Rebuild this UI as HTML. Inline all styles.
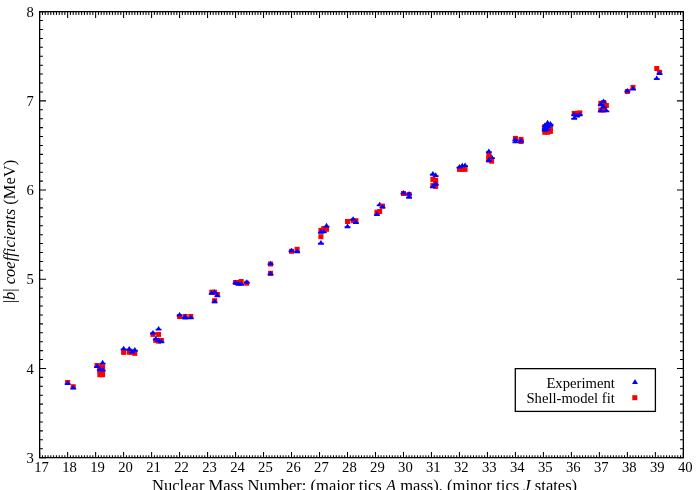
<!DOCTYPE html>
<html><head><meta charset="utf-8"><title>b coefficients</title>
<style>
html,body{margin:0;padding:0;background:#fff;}
body{width:700px;height:490px;overflow:hidden;}
svg{display:block;will-change:transform;}
text{font-family:"Liberation Serif",serif;font-size:14.67px;fill:#000;}
.i{font-style:italic;}
</style></head><body>
<svg width="700" height="490" viewBox="0 0 700 490">
<rect width="700" height="490" fill="#fff"/>
<path d="M39.65 457.65v-5.55M39.65 11.65v6.4M42.45 457.65v-2.45M42.45 11.65v3.3M45.25 457.65v-2.45M45.25 11.65v3.3M48.05 457.65v-2.45M48.05 11.65v3.3M50.84 457.65v-2.45M50.84 11.65v3.3M53.64 457.65v-2.45M53.64 11.65v3.3M56.44 457.65v-2.45M56.44 11.65v3.3M59.24 457.65v-2.45M59.24 11.65v3.3M62.04 457.65v-2.45M62.04 11.65v3.3M64.84 457.65v-2.45M64.84 11.65v3.3M67.64 457.65v-5.55M67.64 11.65v6.4M70.44 457.65v-2.45M70.44 11.65v3.3M73.23 457.65v-2.45M73.23 11.65v3.3M76.03 457.65v-2.45M76.03 11.65v3.3M78.83 457.65v-2.45M78.83 11.65v3.3M81.63 457.65v-2.45M81.63 11.65v3.3M84.43 457.65v-2.45M84.43 11.65v3.3M87.23 457.65v-2.45M87.23 11.65v3.3M90.03 457.65v-2.45M90.03 11.65v3.3M92.83 457.65v-2.45M92.83 11.65v3.3M95.62 457.65v-5.55M95.62 11.65v6.4M98.42 457.65v-2.45M98.42 11.65v3.3M101.22 457.65v-2.45M101.22 11.65v3.3M104.02 457.65v-2.45M104.02 11.65v3.3M106.82 457.65v-2.45M106.82 11.65v3.3M109.62 457.65v-2.45M109.62 11.65v3.3M112.42 457.65v-2.45M112.42 11.65v3.3M115.21 457.65v-2.45M115.21 11.65v3.3M118.01 457.65v-2.45M118.01 11.65v3.3M120.81 457.65v-2.45M120.81 11.65v3.3M123.61 457.65v-5.55M123.61 11.65v6.4M126.41 457.65v-2.45M126.41 11.65v3.3M129.21 457.65v-2.45M129.21 11.65v3.3M132.01 457.65v-2.45M132.01 11.65v3.3M134.81 457.65v-2.45M134.81 11.65v3.3M137.60 457.65v-2.45M137.60 11.65v3.3M140.40 457.65v-2.45M140.40 11.65v3.3M143.20 457.65v-2.45M143.20 11.65v3.3M146.00 457.65v-2.45M146.00 11.65v3.3M148.80 457.65v-2.45M148.80 11.65v3.3M151.60 457.65v-5.55M151.60 11.65v6.4M154.40 457.65v-2.45M154.40 11.65v3.3M157.20 457.65v-2.45M157.20 11.65v3.3M159.99 457.65v-2.45M159.99 11.65v3.3M162.79 457.65v-2.45M162.79 11.65v3.3M165.59 457.65v-2.45M165.59 11.65v3.3M168.39 457.65v-2.45M168.39 11.65v3.3M171.19 457.65v-2.45M171.19 11.65v3.3M173.99 457.65v-2.45M173.99 11.65v3.3M176.79 457.65v-2.45M176.79 11.65v3.3M179.58 457.65v-5.55M179.58 11.65v6.4M182.38 457.65v-2.45M182.38 11.65v3.3M185.18 457.65v-2.45M185.18 11.65v3.3M187.98 457.65v-2.45M187.98 11.65v3.3M190.78 457.65v-2.45M190.78 11.65v3.3M193.58 457.65v-2.45M193.58 11.65v3.3M196.38 457.65v-2.45M196.38 11.65v3.3M199.18 457.65v-2.45M199.18 11.65v3.3M201.97 457.65v-2.45M201.97 11.65v3.3M204.77 457.65v-2.45M204.77 11.65v3.3M207.57 457.65v-5.55M207.57 11.65v6.4M210.37 457.65v-2.45M210.37 11.65v3.3M213.17 457.65v-2.45M213.17 11.65v3.3M215.97 457.65v-2.45M215.97 11.65v3.3M218.77 457.65v-2.45M218.77 11.65v3.3M221.57 457.65v-2.45M221.57 11.65v3.3M224.36 457.65v-2.45M224.36 11.65v3.3M227.16 457.65v-2.45M227.16 11.65v3.3M229.96 457.65v-2.45M229.96 11.65v3.3M232.76 457.65v-2.45M232.76 11.65v3.3M235.56 457.65v-5.55M235.56 11.65v6.4M238.36 457.65v-2.45M238.36 11.65v3.3M241.16 457.65v-2.45M241.16 11.65v3.3M243.95 457.65v-2.45M243.95 11.65v3.3M246.75 457.65v-2.45M246.75 11.65v3.3M249.55 457.65v-2.45M249.55 11.65v3.3M252.35 457.65v-2.45M252.35 11.65v3.3M255.15 457.65v-2.45M255.15 11.65v3.3M257.95 457.65v-2.45M257.95 11.65v3.3M260.75 457.65v-2.45M260.75 11.65v3.3M263.55 457.65v-5.55M263.55 11.65v6.4M266.34 457.65v-2.45M266.34 11.65v3.3M269.14 457.65v-2.45M269.14 11.65v3.3M271.94 457.65v-2.45M271.94 11.65v3.3M274.74 457.65v-2.45M274.74 11.65v3.3M277.54 457.65v-2.45M277.54 11.65v3.3M280.34 457.65v-2.45M280.34 11.65v3.3M283.14 457.65v-2.45M283.14 11.65v3.3M285.94 457.65v-2.45M285.94 11.65v3.3M288.73 457.65v-2.45M288.73 11.65v3.3M291.53 457.65v-5.55M291.53 11.65v6.4M294.33 457.65v-2.45M294.33 11.65v3.3M297.13 457.65v-2.45M297.13 11.65v3.3M299.93 457.65v-2.45M299.93 11.65v3.3M302.73 457.65v-2.45M302.73 11.65v3.3M305.53 457.65v-2.45M305.53 11.65v3.3M308.32 457.65v-2.45M308.32 11.65v3.3M311.12 457.65v-2.45M311.12 11.65v3.3M313.92 457.65v-2.45M313.92 11.65v3.3M316.72 457.65v-2.45M316.72 11.65v3.3M319.52 457.65v-5.55M319.52 11.65v6.4M322.32 457.65v-2.45M322.32 11.65v3.3M325.12 457.65v-2.45M325.12 11.65v3.3M327.92 457.65v-2.45M327.92 11.65v3.3M330.71 457.65v-2.45M330.71 11.65v3.3M333.51 457.65v-2.45M333.51 11.65v3.3M336.31 457.65v-2.45M336.31 11.65v3.3M339.11 457.65v-2.45M339.11 11.65v3.3M341.91 457.65v-2.45M341.91 11.65v3.3M344.71 457.65v-2.45M344.71 11.65v3.3M347.51 457.65v-5.55M347.51 11.65v6.4M350.31 457.65v-2.45M350.31 11.65v3.3M353.10 457.65v-2.45M353.10 11.65v3.3M355.90 457.65v-2.45M355.90 11.65v3.3M358.70 457.65v-2.45M358.70 11.65v3.3M361.50 457.65v-2.45M361.50 11.65v3.3M364.30 457.65v-2.45M364.30 11.65v3.3M367.10 457.65v-2.45M367.10 11.65v3.3M369.90 457.65v-2.45M369.90 11.65v3.3M372.69 457.65v-2.45M372.69 11.65v3.3M375.49 457.65v-5.55M375.49 11.65v6.4M378.29 457.65v-2.45M378.29 11.65v3.3M381.09 457.65v-2.45M381.09 11.65v3.3M383.89 457.65v-2.45M383.89 11.65v3.3M386.69 457.65v-2.45M386.69 11.65v3.3M389.49 457.65v-2.45M389.49 11.65v3.3M392.29 457.65v-2.45M392.29 11.65v3.3M395.08 457.65v-2.45M395.08 11.65v3.3M397.88 457.65v-2.45M397.88 11.65v3.3M400.68 457.65v-2.45M400.68 11.65v3.3M403.48 457.65v-5.55M403.48 11.65v6.4M406.28 457.65v-2.45M406.28 11.65v3.3M409.08 457.65v-2.45M409.08 11.65v3.3M411.88 457.65v-2.45M411.88 11.65v3.3M414.68 457.65v-2.45M414.68 11.65v3.3M417.47 457.65v-2.45M417.47 11.65v3.3M420.27 457.65v-2.45M420.27 11.65v3.3M423.07 457.65v-2.45M423.07 11.65v3.3M425.87 457.65v-2.45M425.87 11.65v3.3M428.67 457.65v-2.45M428.67 11.65v3.3M431.47 457.65v-5.55M431.47 11.65v6.4M434.27 457.65v-2.45M434.27 11.65v3.3M437.06 457.65v-2.45M437.06 11.65v3.3M439.86 457.65v-2.45M439.86 11.65v3.3M442.66 457.65v-2.45M442.66 11.65v3.3M445.46 457.65v-2.45M445.46 11.65v3.3M448.26 457.65v-2.45M448.26 11.65v3.3M451.06 457.65v-2.45M451.06 11.65v3.3M453.86 457.65v-2.45M453.86 11.65v3.3M456.66 457.65v-2.45M456.66 11.65v3.3M459.45 457.65v-5.55M459.45 11.65v6.4M462.25 457.65v-2.45M462.25 11.65v3.3M465.05 457.65v-2.45M465.05 11.65v3.3M467.85 457.65v-2.45M467.85 11.65v3.3M470.65 457.65v-2.45M470.65 11.65v3.3M473.45 457.65v-2.45M473.45 11.65v3.3M476.25 457.65v-2.45M476.25 11.65v3.3M479.05 457.65v-2.45M479.05 11.65v3.3M481.84 457.65v-2.45M481.84 11.65v3.3M484.64 457.65v-2.45M484.64 11.65v3.3M487.44 457.65v-5.55M487.44 11.65v6.4M490.24 457.65v-2.45M490.24 11.65v3.3M493.04 457.65v-2.45M493.04 11.65v3.3M495.84 457.65v-2.45M495.84 11.65v3.3M498.64 457.65v-2.45M498.64 11.65v3.3M501.43 457.65v-2.45M501.43 11.65v3.3M504.23 457.65v-2.45M504.23 11.65v3.3M507.03 457.65v-2.45M507.03 11.65v3.3M509.83 457.65v-2.45M509.83 11.65v3.3M512.63 457.65v-2.45M512.63 11.65v3.3M515.43 457.65v-5.55M515.43 11.65v6.4M518.23 457.65v-2.45M518.23 11.65v3.3M521.03 457.65v-2.45M521.03 11.65v3.3M523.82 457.65v-2.45M523.82 11.65v3.3M526.62 457.65v-2.45M526.62 11.65v3.3M529.42 457.65v-2.45M529.42 11.65v3.3M532.22 457.65v-2.45M532.22 11.65v3.3M535.02 457.65v-2.45M535.02 11.65v3.3M537.82 457.65v-2.45M537.82 11.65v3.3M540.62 457.65v-2.45M540.62 11.65v3.3M543.42 457.65v-5.55M543.42 11.65v6.4M546.21 457.65v-2.45M546.21 11.65v3.3M549.01 457.65v-2.45M549.01 11.65v3.3M551.81 457.65v-2.45M551.81 11.65v3.3M554.61 457.65v-2.45M554.61 11.65v3.3M557.41 457.65v-2.45M557.41 11.65v3.3M560.21 457.65v-2.45M560.21 11.65v3.3M563.01 457.65v-2.45M563.01 11.65v3.3M565.80 457.65v-2.45M565.80 11.65v3.3M568.60 457.65v-2.45M568.60 11.65v3.3M571.40 457.65v-5.55M571.40 11.65v6.4M574.20 457.65v-2.45M574.20 11.65v3.3M577.00 457.65v-2.45M577.00 11.65v3.3M579.80 457.65v-2.45M579.80 11.65v3.3M582.60 457.65v-2.45M582.60 11.65v3.3M585.40 457.65v-2.45M585.40 11.65v3.3M588.19 457.65v-2.45M588.19 11.65v3.3M590.99 457.65v-2.45M590.99 11.65v3.3M593.79 457.65v-2.45M593.79 11.65v3.3M596.59 457.65v-2.45M596.59 11.65v3.3M599.39 457.65v-5.55M599.39 11.65v6.4M602.19 457.65v-2.45M602.19 11.65v3.3M604.99 457.65v-2.45M604.99 11.65v3.3M607.79 457.65v-2.45M607.79 11.65v3.3M610.58 457.65v-2.45M610.58 11.65v3.3M613.38 457.65v-2.45M613.38 11.65v3.3M616.18 457.65v-2.45M616.18 11.65v3.3M618.98 457.65v-2.45M618.98 11.65v3.3M621.78 457.65v-2.45M621.78 11.65v3.3M624.58 457.65v-2.45M624.58 11.65v3.3M627.38 457.65v-5.55M627.38 11.65v6.4M630.17 457.65v-2.45M630.17 11.65v3.3M632.97 457.65v-2.45M632.97 11.65v3.3M635.77 457.65v-2.45M635.77 11.65v3.3M638.57 457.65v-2.45M638.57 11.65v3.3M641.37 457.65v-2.45M641.37 11.65v3.3M644.17 457.65v-2.45M644.17 11.65v3.3M646.97 457.65v-2.45M646.97 11.65v3.3M649.77 457.65v-2.45M649.77 11.65v3.3M652.56 457.65v-2.45M652.56 11.65v3.3M655.36 457.65v-5.55M655.36 11.65v6.4M658.16 457.65v-2.45M658.16 11.65v3.3M660.96 457.65v-2.45M660.96 11.65v3.3M663.76 457.65v-2.45M663.76 11.65v3.3M666.56 457.65v-2.45M666.56 11.65v3.3M669.36 457.65v-2.45M669.36 11.65v3.3M672.16 457.65v-2.45M672.16 11.65v3.3M674.95 457.65v-2.45M674.95 11.65v3.3M677.75 457.65v-2.45M677.75 11.65v3.3M680.55 457.65v-2.45M680.55 11.65v3.3M683.35 457.65v-5.55M683.35 11.65v6.4M39.65 457.65h6.4M683.35 457.65h-6.4M39.65 448.73h3.3M683.35 448.73h-3.3M39.65 439.81h3.3M683.35 439.81h-3.3M39.65 430.89h3.3M683.35 430.89h-3.3M39.65 421.97h3.3M683.35 421.97h-3.3M39.65 413.05h3.3M683.35 413.05h-3.3M39.65 404.13h3.3M683.35 404.13h-3.3M39.65 395.21h3.3M683.35 395.21h-3.3M39.65 386.29h3.3M683.35 386.29h-3.3M39.65 377.37h3.3M683.35 377.37h-3.3M39.65 368.45h6.4M683.35 368.45h-6.4M39.65 359.53h3.3M683.35 359.53h-3.3M39.65 350.61h3.3M683.35 350.61h-3.3M39.65 341.69h3.3M683.35 341.69h-3.3M39.65 332.77h3.3M683.35 332.77h-3.3M39.65 323.85h3.3M683.35 323.85h-3.3M39.65 314.93h3.3M683.35 314.93h-3.3M39.65 306.01h3.3M683.35 306.01h-3.3M39.65 297.09h3.3M683.35 297.09h-3.3M39.65 288.17h3.3M683.35 288.17h-3.3M39.65 279.25h6.4M683.35 279.25h-6.4M39.65 270.33h3.3M683.35 270.33h-3.3M39.65 261.41h3.3M683.35 261.41h-3.3M39.65 252.49h3.3M683.35 252.49h-3.3M39.65 243.57h3.3M683.35 243.57h-3.3M39.65 234.65h3.3M683.35 234.65h-3.3M39.65 225.73h3.3M683.35 225.73h-3.3M39.65 216.81h3.3M683.35 216.81h-3.3M39.65 207.89h3.3M683.35 207.89h-3.3M39.65 198.97h3.3M683.35 198.97h-3.3M39.65 190.05h6.4M683.35 190.05h-6.4M39.65 181.13h3.3M683.35 181.13h-3.3M39.65 172.21h3.3M683.35 172.21h-3.3M39.65 163.29h3.3M683.35 163.29h-3.3M39.65 154.37h3.3M683.35 154.37h-3.3M39.65 145.45h3.3M683.35 145.45h-3.3M39.65 136.53h3.3M683.35 136.53h-3.3M39.65 127.61h3.3M683.35 127.61h-3.3M39.65 118.69h3.3M683.35 118.69h-3.3M39.65 109.77h3.3M683.35 109.77h-3.3M39.65 100.85h6.4M683.35 100.85h-6.4M39.65 91.93h3.3M683.35 91.93h-3.3M39.65 83.01h3.3M683.35 83.01h-3.3M39.65 74.09h3.3M683.35 74.09h-3.3M39.65 65.17h3.3M683.35 65.17h-3.3M39.65 56.25h3.3M683.35 56.25h-3.3M39.65 47.33h3.3M683.35 47.33h-3.3M39.65 38.41h3.3M683.35 38.41h-3.3M39.65 29.49h3.3M683.35 29.49h-3.3M39.65 20.57h3.3M683.35 20.57h-3.3M39.65 11.65h6.4M683.35 11.65h-6.4" stroke="#000" stroke-width="1.05" fill="none"/>
<rect x="39.65" y="11.65" width="643.70" height="446.00" fill="none" stroke="#000" stroke-width="1.3"/>
<text x="41.55" y="472.45" text-anchor="middle">17</text>
<text x="69.54" y="472.45" text-anchor="middle">18</text>
<text x="97.52" y="472.45" text-anchor="middle">19</text>
<text x="125.51" y="472.45" text-anchor="middle">20</text>
<text x="153.50" y="472.45" text-anchor="middle">21</text>
<text x="181.48" y="472.45" text-anchor="middle">22</text>
<text x="209.47" y="472.45" text-anchor="middle">23</text>
<text x="237.46" y="472.45" text-anchor="middle">24</text>
<text x="265.45" y="472.45" text-anchor="middle">25</text>
<text x="293.43" y="472.45" text-anchor="middle">26</text>
<text x="321.42" y="472.45" text-anchor="middle">27</text>
<text x="349.41" y="472.45" text-anchor="middle">28</text>
<text x="377.39" y="472.45" text-anchor="middle">29</text>
<text x="405.38" y="472.45" text-anchor="middle">30</text>
<text x="433.37" y="472.45" text-anchor="middle">31</text>
<text x="461.35" y="472.45" text-anchor="middle">32</text>
<text x="489.34" y="472.45" text-anchor="middle">33</text>
<text x="517.33" y="472.45" text-anchor="middle">34</text>
<text x="545.32" y="472.45" text-anchor="middle">35</text>
<text x="573.30" y="472.45" text-anchor="middle">36</text>
<text x="601.29" y="472.45" text-anchor="middle">37</text>
<text x="629.28" y="472.45" text-anchor="middle">38</text>
<text x="657.26" y="472.45" text-anchor="middle">39</text>
<text x="685.25" y="472.45" text-anchor="middle">40</text>
<text x="33.8" y="462.80" text-anchor="end">3</text>
<text x="33.8" y="373.60" text-anchor="end">4</text>
<text x="33.8" y="284.40" text-anchor="end">5</text>
<text x="33.8" y="195.20" text-anchor="end">6</text>
<text x="33.8" y="106.00" text-anchor="end">7</text>
<text x="33.8" y="16.80" text-anchor="end">8</text>
<text x="364.6" y="491" text-anchor="middle" style="font-size:16.56px">Nuclear Mass Number: (major tics <tspan class="i">A</tspan> mass), (minor tics <tspan class="i">J</tspan> states)</text>
<text transform="translate(15.0 231.55) rotate(-90)" text-anchor="middle" style="font-size:16.56px">|<tspan class="i">b</tspan>| <tspan class="i">coefficients</tspan> (MeV)</text>
<g fill="#00f"><path d="M379.69 201.75L381.49 204.55H382.64V206.35H376.74V204.55H377.90Z"/><path d="M491.64 154.35L493.43 157.15H494.59V158.95H488.69V157.15H489.84Z"/></g>
<g fill="#f00"><rect x="65.14" y="380.00" width="5.0" height="5.0"/><rect x="70.73" y="384.20" width="5.0" height="5.0"/><rect x="94.52" y="363.00" width="5.0" height="5.0"/><rect x="97.32" y="364.30" width="5.0" height="5.0"/><rect x="100.12" y="364.30" width="5.0" height="5.0"/><rect x="97.32" y="368.20" width="5.0" height="5.0"/><rect x="100.12" y="368.20" width="5.0" height="5.0"/><rect x="97.32" y="372.20" width="5.0" height="5.0"/><rect x="100.12" y="372.20" width="5.0" height="5.0"/><rect x="121.11" y="349.90" width="5.0" height="5.0"/><rect x="126.71" y="349.80" width="5.0" height="5.0"/><rect x="129.51" y="349.80" width="5.0" height="5.0"/><rect x="132.31" y="350.90" width="5.0" height="5.0"/><rect x="156.09" y="331.90" width="5.0" height="5.0"/><rect x="150.50" y="331.90" width="5.0" height="5.0"/><rect x="153.30" y="337.90" width="5.0" height="5.0"/><rect x="156.09" y="338.70" width="5.0" height="5.0"/><rect x="158.89" y="338.00" width="5.0" height="5.0"/><rect x="177.08" y="314.00" width="5.0" height="5.0"/><rect x="182.68" y="314.00" width="5.0" height="5.0"/><rect x="188.28" y="314.00" width="5.0" height="5.0"/><rect x="209.27" y="289.70" width="5.0" height="5.0"/><rect x="212.07" y="289.70" width="5.0" height="5.0"/><rect x="214.87" y="292.00" width="5.0" height="5.0"/><rect x="212.07" y="298.20" width="5.0" height="5.0"/><rect x="233.06" y="280.00" width="5.0" height="5.0"/><rect x="235.86" y="280.00" width="5.0" height="5.0"/><rect x="238.66" y="279.00" width="5.0" height="5.0"/><rect x="244.25" y="280.70" width="5.0" height="5.0"/><rect x="268.04" y="261.50" width="5.0" height="5.0"/><rect x="268.04" y="270.80" width="5.0" height="5.0"/><rect x="289.03" y="248.80" width="5.0" height="5.0"/><rect x="294.63" y="246.80" width="5.0" height="5.0"/><rect x="321.22" y="226.10" width="5.0" height="5.0"/><rect x="324.02" y="226.80" width="5.0" height="5.0"/><rect x="318.42" y="227.90" width="5.0" height="5.0"/><rect x="318.42" y="234.20" width="5.0" height="5.0"/><rect x="345.01" y="219.00" width="5.0" height="5.0"/><rect x="350.60" y="218.20" width="5.0" height="5.0"/><rect x="353.40" y="218.20" width="5.0" height="5.0"/><rect x="379.99" y="203.60" width="5.0" height="5.0"/><rect x="377.19" y="209.00" width="5.0" height="5.0"/><rect x="374.39" y="209.70" width="5.0" height="5.0"/><rect x="400.98" y="191.00" width="5.0" height="5.0"/><rect x="406.58" y="192.00" width="5.0" height="5.0"/><rect x="430.37" y="176.90" width="5.0" height="5.0"/><rect x="433.17" y="177.70" width="5.0" height="5.0"/><rect x="433.17" y="181.00" width="5.0" height="5.0"/><rect x="433.17" y="183.90" width="5.0" height="5.0"/><rect x="430.37" y="183.10" width="5.0" height="5.0"/><rect x="456.95" y="166.90" width="5.0" height="5.0"/><rect x="459.75" y="166.90" width="5.0" height="5.0"/><rect x="462.55" y="166.90" width="5.0" height="5.0"/><rect x="486.34" y="152.80" width="5.0" height="5.0"/><rect x="486.34" y="155.50" width="5.0" height="5.0"/><rect x="486.34" y="157.50" width="5.0" height="5.0"/><rect x="489.14" y="158.70" width="5.0" height="5.0"/><rect x="512.93" y="135.90" width="5.0" height="5.0"/><rect x="518.53" y="136.90" width="5.0" height="5.0"/><rect x="518.53" y="139.00" width="5.0" height="5.0"/><rect x="542.31" y="124.10" width="5.0" height="5.0"/><rect x="542.31" y="127.00" width="5.0" height="5.0"/><rect x="542.31" y="129.80" width="5.0" height="5.0"/><rect x="545.11" y="124.50" width="5.0" height="5.0"/><rect x="545.11" y="127.00" width="5.0" height="5.0"/><rect x="545.11" y="129.80" width="5.0" height="5.0"/><rect x="547.91" y="126.40" width="5.0" height="5.0"/><rect x="547.91" y="128.90" width="5.0" height="5.0"/><rect x="571.70" y="110.90" width="5.0" height="5.0"/><rect x="574.50" y="110.90" width="5.0" height="5.0"/><rect x="577.30" y="110.40" width="5.0" height="5.0"/><rect x="598.29" y="100.80" width="5.0" height="5.0"/><rect x="601.09" y="100.00" width="5.0" height="5.0"/><rect x="603.89" y="103.00" width="5.0" height="5.0"/><rect x="601.09" y="103.00" width="5.0" height="5.0"/><rect x="598.29" y="107.50" width="5.0" height="5.0"/><rect x="601.09" y="107.50" width="5.0" height="5.0"/><rect x="624.88" y="89.00" width="5.0" height="5.0"/><rect x="630.47" y="84.90" width="5.0" height="5.0"/><rect x="654.26" y="66.00" width="5.0" height="5.0"/><rect x="657.06" y="69.80" width="5.0" height="5.0"/></g>
<g fill="#00f"><path d="M67.64 380.35L69.43 383.15H70.59V384.95H64.69V383.15H65.84Z"/><path d="M73.23 384.85L75.03 387.65H76.18V389.45H70.28V387.65H71.44Z"/><path d="M102.62 359.85L104.42 362.65H105.57V364.45H99.67V362.65H100.83Z"/><path d="M97.02 363.45L98.82 366.25H99.97V368.05H94.07V366.25H95.23Z"/><path d="M99.82 366.55L101.62 369.35H102.77V371.15H96.87V369.35H98.03Z"/><path d="M102.62 366.85L104.42 369.65H105.57V371.45H99.67V369.65H100.83Z"/><path d="M123.61 345.75L125.41 348.55H126.56V350.35H120.66V348.55H121.82Z"/><path d="M129.21 346.05L131.00 348.85H132.16V350.65H126.26V348.85H127.41Z"/><path d="M134.81 347.05L136.60 349.85H137.76V351.65H131.86V349.85H133.01Z"/><path d="M132.01 348.85L133.80 351.65H134.96V353.45H129.06V351.65H130.21Z"/><path d="M158.59 325.95L160.39 328.75H161.54V330.55H155.64V328.75H156.80Z"/><path d="M153.00 329.95L154.79 332.75H155.95V334.55H150.05V332.75H151.20Z"/><path d="M155.80 335.85L157.59 338.65H158.75V340.45H152.85V338.65H154.00Z"/><path d="M158.59 337.35L160.39 340.15H161.54V341.95H155.64V340.15H156.80Z"/><path d="M161.39 338.65L163.19 341.45H164.34V343.25H158.44V341.45H159.60Z"/><path d="M179.58 311.95L181.38 314.75H182.53V316.55H176.63V314.75H177.79Z"/><path d="M185.18 313.85L186.98 316.65H188.13V318.45H182.23V316.65H183.39Z"/><path d="M185.18 314.80L186.98 317.60H188.13V319.40H182.23V317.60H183.39Z"/><path d="M190.78 314.65L192.58 317.45H193.73V319.25H187.83V317.45H188.98Z"/><path d="M211.77 290.25L213.57 293.05H214.72V294.85H208.82V293.05H209.97Z"/><path d="M214.57 289.35L216.36 292.15H217.52V293.95H211.62V292.15H212.77Z"/><path d="M217.37 292.60L219.16 295.40H220.32V297.20H214.42V295.40H215.57Z"/><path d="M214.57 298.65L216.36 301.45H217.52V303.25H211.62V301.45H212.77Z"/><path d="M235.56 279.75L237.35 282.55H238.51V284.35H232.61V282.55H233.76Z"/><path d="M238.36 281.05L240.15 283.85H241.31V285.65H235.41V283.85H236.56Z"/><path d="M241.16 281.25L242.95 284.05H244.11V285.85H238.21V284.05H239.36Z"/><path d="M246.75 279.15L248.55 281.95H249.70V283.75H243.80V281.95H244.96Z"/><path d="M270.54 260.65L272.34 263.45H273.49V265.25H267.59V263.45H268.75Z"/><path d="M270.54 270.85L272.34 273.65H273.49V275.45H267.59V273.65H268.75Z"/><path d="M291.53 247.75L293.33 250.55H294.48V252.35H288.58V250.55H289.74Z"/><path d="M297.13 248.55L298.93 251.35H300.08V253.15H294.18V251.35H295.33Z"/><path d="M326.52 222.85L328.31 225.65H329.47V227.45H323.57V225.65H324.72Z"/><path d="M320.92 229.05L322.71 231.85H323.87V233.65H317.97V231.85H319.12Z"/><path d="M323.72 228.65L325.51 231.45H326.67V233.25H320.77V231.45H321.92Z"/><path d="M320.92 240.05L322.71 242.85H323.87V244.65H317.97V242.85H319.12Z"/><path d="M347.51 223.55L349.30 226.35H350.46V228.15H344.56V226.35H345.71Z"/><path d="M353.10 216.25L354.90 219.05H356.05V220.85H350.15V219.05H351.31Z"/><path d="M355.90 219.35L357.70 222.15H358.85V223.95H352.95V222.15H354.11Z"/><path d="M382.49 203.95L384.29 206.75H385.44V208.55H379.54V206.75H380.69Z"/><path d="M376.89 211.45L378.69 214.25H379.84V216.05H373.94V214.25H375.10Z"/><path d="M403.48 189.95L405.28 192.75H406.43V194.55H400.53V192.75H401.68Z"/><path d="M409.08 190.95L410.87 193.75H412.03V195.55H406.13V193.75H407.28Z"/><path d="M409.08 194.15L410.87 196.95H412.03V198.75H406.13V196.95H407.28Z"/><path d="M432.87 171.05L434.66 173.85H435.82V175.65H429.92V173.85H431.07Z"/><path d="M435.67 172.35L437.46 175.15H438.62V176.95H432.72V175.15H433.87Z"/><path d="M435.67 181.05L437.46 183.85H438.62V185.65H432.72V183.85H433.87Z"/><path d="M432.87 183.65L434.66 186.45H435.82V188.25H429.92V186.45H431.07Z"/><path d="M459.45 163.95L461.25 166.75H462.40V168.55H456.50V166.75H457.66Z"/><path d="M462.25 162.65L464.05 165.45H465.20V167.25H459.30V165.45H460.46Z"/><path d="M465.05 162.45L466.85 165.25H468.00V167.05H462.10V165.25H463.26Z"/><path d="M488.84 148.55L490.64 151.35H491.79V153.15H485.89V151.35H487.05Z"/><path d="M488.84 157.35L490.64 160.15H491.79V161.95H485.89V160.15H487.05Z"/><path d="M515.43 136.75L517.22 139.55H518.38V141.35H512.48V139.55H513.63Z"/><path d="M515.43 138.75L517.22 141.55H518.38V143.35H512.48V141.55H513.63Z"/><path d="M521.03 138.05L522.82 140.85H523.98V142.65H518.08V140.85H519.23Z"/><path d="M547.61 119.85L549.41 122.65H550.56V124.45H544.66V122.65H545.82Z"/><path d="M550.41 120.95L552.21 123.75H553.36V125.55H547.46V123.75H548.62Z"/><path d="M550.41 122.05L552.21 124.85H553.36V126.65H547.46V124.85H548.62Z"/><path d="M544.81 122.65L546.61 125.45H547.76V127.25H541.86V125.45H543.02Z"/><path d="M547.61 123.35L549.41 126.15H550.56V127.95H544.66V126.15H545.82Z"/><path d="M544.81 125.35L546.61 128.15H547.76V129.95H541.86V128.15H543.02Z"/><path d="M547.61 126.15L549.41 128.95H550.56V130.75H544.66V128.95H545.82Z"/><path d="M544.81 127.05L546.61 129.85H547.76V131.65H541.86V129.85H543.02Z"/><path d="M574.20 111.75L576.00 114.55H577.15V116.35H571.25V114.55H572.41Z"/><path d="M577.00 112.95L578.80 115.75H579.95V117.55H574.05V115.75H575.20Z"/><path d="M579.80 111.75L581.59 114.55H582.75V116.35H576.85V114.55H578.00Z"/><path d="M574.20 115.15L576.00 117.95H577.15V119.75H571.25V117.95H572.41Z"/><path d="M603.59 98.55L605.38 101.35H606.54V103.15H600.64V101.35H601.79Z"/><path d="M600.79 101.55L602.58 104.35H603.74V106.15H597.84V104.35H598.99Z"/><path d="M603.59 103.85L605.38 106.65H606.54V108.45H600.64V106.65H601.79Z"/><path d="M606.39 107.75L608.18 110.55H609.34V112.35H603.44V110.55H604.59Z"/><path d="M600.79 107.75L602.58 110.55H603.74V112.35H597.84V110.55H598.99Z"/><path d="M627.38 87.95L629.17 90.75H630.33V92.55H624.43V90.75H625.58Z"/><path d="M632.97 85.95L634.77 88.75H635.92V90.55H630.02V88.75H631.18Z"/><path d="M659.56 70.35L661.36 73.15H662.51V74.95H656.61V73.15H657.77Z"/><path d="M656.76 75.45L658.56 78.25H659.71V80.05H653.81V78.25H654.97Z"/><rect x="488.6" y="157.4" width="6.0" height="1.6"/></g>
<rect x="515.3" y="368.65" width="140.10" height="42.75" fill="#fff" stroke="#000" stroke-width="1.3"/>
<text x="614.8" y="388.0" text-anchor="end">Experiment</text>
<text x="614.8" y="402.8" text-anchor="end">Shell-model fit</text>
<g fill="#00f"><path d="M635.00 379.00L637.95 384.00H632.05Z"/></g>
<g fill="#f00"><rect x="632.30" y="395.20" width="5.0" height="5.0"/></g>
</svg></body></html>
